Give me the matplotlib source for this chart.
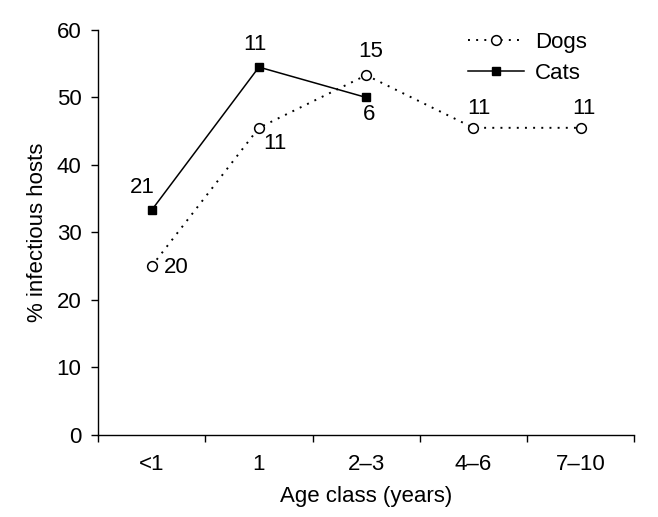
import matplotlib
matplotlib.use("Agg")
import matplotlib.pyplot as plt

plt.rcParams['font.family'] = ['Liberation Sans', 'DejaVu Sans']

# data
age_classes = ['<1', '1', '2\u20133', '4\u20136', '7\u201310']
dogs_pct = [25.0, 45.5, 53.3, 45.5, 45.5]
dogs_n = [20, 11, 15, 11, 11]
cats_pct = [33.3, 54.5, 50.0]
cats_n = [21, 11, 6]

# label offsets (points) for the sample-size annotations
dogs_off = [(18, -1), (11.5, -11.5), (3.5, 17), (4, 14), (2, 14)]
cats_off = [(-7, 16), (-3, 16), (2, -12)]

FS = 16

fig = plt.figure(figsize=(6.58, 5.17), dpi=100)
ax = fig.add_axes([0.149, 0.159, 0.815, 0.783])

xd = list(range(len(dogs_pct)))
xc = list(range(len(cats_pct)))
ax.plot(xd, dogs_pct, color='black', linestyle=(0, (1, 3.2)), linewidth=1.4,
        marker='o', markersize=7, markerfacecolor='white', markeredgecolor='black',
        markeredgewidth=1.1, label='Dogs')
ax.plot(xc, cats_pct, color='black', linestyle='-', linewidth=1.1,
        marker='s', markersize=5.5, markerfacecolor='black', label='Cats')

for x, y, n, off in zip(xd, dogs_pct, dogs_n, dogs_off):
    ax.annotate(str(n), (x, y), xytext=off, textcoords='offset points',
                ha='center', va='center', fontsize=FS)
for x, y, n, off in zip(xc, cats_pct, cats_n, cats_off):
    ax.annotate(str(n), (x, y), xytext=off, textcoords='offset points',
                ha='center', va='center', fontsize=FS)

ax.set_xlim(-0.5, len(age_classes) - 0.5)
ax.set_ylim(0, 60)
ax.set_yticks(range(0, 61, 10))
ax.set_xticks([i - 0.5 for i in range(len(age_classes) + 1)])
ax.set_xticklabels([])
ax.set_xticks(range(len(age_classes)), minor=True)
ax.set_xticklabels(age_classes, minor=True)
ax.tick_params(axis='x', which='minor', length=0, pad=14, labelsize=FS)
ax.tick_params(axis='both', which='major', length=5, width=1, labelsize=FS, direction='out')
ax.tick_params(axis='y', pad=7)

for s in ['top', 'right']:
    ax.spines[s].set_visible(False)
for s in ['left', 'bottom']:
    ax.spines[s].set_linewidth(1)

ax.set_xlabel('Age class (years)', fontsize=FS, labelpad=8)
ax.set_ylabel('% infectious hosts', fontsize=FS, labelpad=6)

ax.legend(loc='upper left', bbox_to_anchor=(0.69, 0.995), frameon=False, fontsize=FS,
          borderpad=0, borderaxespad=0,
          handlelength=2.5, handletextpad=0.5, labelspacing=0.45)

fig.savefig('out.png', dpi=100)
